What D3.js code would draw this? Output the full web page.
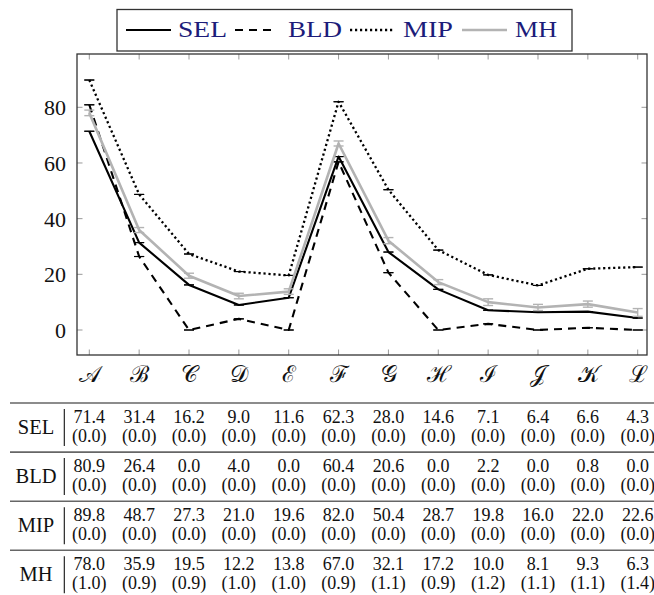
<!DOCTYPE html>
<html>
<head>
<meta charset="utf-8">
<script src="https://cdn.jsdelivr.net/npm/d3@7"></script>
<style>
  html, body { margin: 0; padding: 0; background: #fff; }
  svg { display: block; }
</style>
</head>
<body>
<svg id="chart" width="654" height="595"></svg>
<script>
// ---- data ----
const categories = ["𝒜", "ℬ", "𝒞", "𝒟", "ℰ", "ℱ", "𝒢", "ℋ", "ℐ", "𝒥", "𝒦", "ℒ"];
const seriesNames = ["SEL", "BLD", "MIP", "MH"];
const selValues = [71.4, 31.4, 16.2, 9.0, 11.6, 62.3, 28.0, 14.6, 7.1, 6.4, 6.6, 4.3];
const selErrors = [0, 0, 0, 0, 0, 0, 0, 0, 0, 0, 0, 0];
const bldValues = [80.9, 26.4, 0.0, 4.0, 0.0, 60.4, 20.6, 0.0, 2.2, 0.0, 0.8, 0.0];
const bldErrors = [0, 0, 0, 0, 0, 0, 0, 0, 0, 0, 0, 0];
const mipValues = [89.8, 48.7, 27.3, 21.0, 19.6, 82.0, 50.4, 28.7, 19.8, 16.0, 22.0, 22.6];
const mipErrors = [0, 0, 0, 0, 0, 0, 0, 0, 0, 0, 0, 0];
const mhValues = [78.0, 35.9, 19.5, 12.2, 13.8, 67.0, 32.1, 17.2, 10.0, 8.1, 9.3, 6.3];
const mhErrors = [1.0, 0.9, 0.9, 1.0, 1.0, 0.9, 1.1, 0.9, 1.2, 1.1, 1.1, 1.4];
const yTicks = [0, 20, 40, 60, 80];

const series = [
  { name: seriesNames[0], values: selValues, errors: selErrors, color: "#000", width: 2.1, dash: null },
  { name: seriesNames[1], values: bldValues, errors: bldErrors, color: "#000", width: 2.1, dash: "8,6" },
  { name: seriesNames[2], values: mipValues, errors: mipErrors, color: "#000", width: 2.3, dash: "2.2,2.8" },
  { name: seriesNames[3], values: mhValues, errors: mhErrors, color: "#b3b3b3", width: 2.6, dash: null }
];

const SERIF = '"Liberation Serif"';
const SCRIPT = '"DejaVu Serif"';

// ---- layout ----
const svg = d3.select("#chart");
const plot = { left: 77, right: 647, top: 54, bottom: 355 };
const x = d3.scaleLinear().domain([0, 11]).range([89.3, 637.7]);
const y = d3.scaleLinear().domain([0, 80]).range([330, 107.3]);
const idx = d3.range(categories.length);

// ticks (inward, gray)
const tickLen = 5.5;
const tickG = svg.append("g").attr("stroke", "#999").attr("stroke-width", 1);
idx.forEach(i => {
  tickG.append("line").attr("x1", x(i)).attr("x2", x(i)).attr("y1", plot.bottom).attr("y2", plot.bottom - tickLen);
  tickG.append("line").attr("x1", x(i)).attr("x2", x(i)).attr("y1", plot.top).attr("y2", plot.top + tickLen);
});
yTicks.forEach(t => {
  tickG.append("line").attr("x1", plot.left).attr("x2", plot.left + tickLen).attr("y1", y(t)).attr("y2", y(t));
  tickG.append("line").attr("x1", plot.right).attr("x2", plot.right - tickLen).attr("y1", y(t)).attr("y2", y(t));
});

// y tick labels via d3 axis
const yAxis = d3.axisLeft(y).tickValues(yTicks).tickSize(0).tickPadding(0).tickFormat(d3.format("d"));
const yAxisG = svg.append("g").attr("transform", `translate(${plot.left - 11},0)`).call(yAxis)
  .attr("font-family", SERIF).attr("font-size", 22);
yAxisG.select(".domain").remove();
yAxisG.selectAll("text").attr("font-family", SERIF).attr("font-size", 22).attr("fill", "#111").attr("dy", "0.34em");

// x tick labels
const xAxis = d3.axisBottom(x).tickValues(idx).tickSize(0).tickPadding(0).tickFormat(i => categories[i]);
const xAxisG = svg.append("g").attr("transform", `translate(0,${plot.bottom + 27})`).call(xAxis)
  .attr("font-family", SCRIPT).attr("font-size", 23);
xAxisG.select(".domain").remove();
xAxisG.selectAll("text").attr("font-family", SCRIPT).attr("font-size", 23).attr("fill", "#111").attr("dy", 0);

// clip
svg.append("clipPath").attr("id", "clip").append("rect")
  .attr("x", plot.left).attr("y", plot.top).attr("width", plot.right - plot.left).attr("height", plot.bottom - plot.top);

const line = d3.line().x((d, i) => x(i)).y(d => y(d));
const dataG = svg.append("g").attr("clip-path", "url(#clip)");
series.forEach(s => {
  const sg = dataG.append("g");
  sg.append("path").datum(s.values).attr("d", line)
    .attr("fill", "none").attr("stroke", s.color).attr("stroke-width", s.width)
    .attr("stroke-linejoin", "round")
    .attr("stroke-dasharray", s.dash);
  // error bars
  s.values.forEach((v, i) => {
    const e = s.errors[i];
    const ew = s.name === "MH" ? 1.4 : 1.1;
    if (e > 0) {
      sg.append("line").attr("x1", x(i)).attr("x2", x(i)).attr("y1", y(v - e)).attr("y2", y(v + e))
        .attr("stroke", s.color).attr("stroke-width", ew);
    }
    [v - e, v + e].forEach(val => {
      sg.append("line").attr("x1", x(i) - 5).attr("x2", x(i) + 5).attr("y1", y(val)).attr("y2", y(val))
        .attr("stroke", s.color).attr("stroke-width", ew);
    });
  });
});

// frame
svg.append("rect").attr("x", plot.left).attr("y", plot.top)
  .attr("width", plot.right - plot.left).attr("height", plot.bottom - plot.top)
  .attr("fill", "none").attr("stroke", "#333").attr("stroke-width", 1.3);

// ---- legend ----
const legend = svg.append("g");
legend.append("rect").attr("x", 117).attr("y", 9.5).attr("width", 455).attr("height", 41.5)
  .attr("fill", "#fff").attr("stroke", "#333").attr("stroke-width", 1.3);
const legendItems = [
  { line: [126, 171], text: 178, tw: 49 },
  { line: [235, 277], text: 288, tw: 54 },
  { line: [350, 395], text: 403, tw: 50 },
  { line: [462, 507], text: 515, tw: 42 }
];
series.forEach((s, k) => {
  const it = legendItems[k];
  legend.append("line").attr("x1", it.line[0]).attr("x2", it.line[1]).attr("y1", 30).attr("y2", 30)
    .attr("stroke", s.color).attr("stroke-width", s.width).attr("stroke-dasharray", s.dash);
  legend.append("text").attr("x", it.text).attr("y", 37).attr("font-size", 24)
    .attr("font-family", SERIF)
    .attr("fill", "#1c1c7a").attr("textLength", it.tw).attr("lengthAdjust", "spacingAndGlyphs")
    .text(s.name);
});

// ---- table ----
const table = svg.append("g");
const ruleY0 = 403, rowH = 49.1;
series.forEach((s, r) => {
  const ry = ruleY0 + r * rowH;
  table.append("line").attr("x1", 10).attr("x2", 654).attr("y1", ry).attr("y2", ry)
    .attr("stroke", "#666").attr("stroke-width", 1.6);
  table.append("text").attr("x", 36).attr("y", ry + 31).attr("text-anchor", "middle")
    .attr("font-family", SERIF).attr("font-size", 20.5).attr("fill", "#111").text(s.name);
  table.append("line").attr("x1", 64.3).attr("x2", 64.3).attr("y1", ry + 6).attr("y2", ry + 43)
    .attr("stroke", "#111").attr("stroke-width", 1.1);
  s.values.forEach((v, i) => {
    table.append("text").attr("x", x(i)).attr("y", ry + 20).attr("text-anchor", "middle")
      .attr("font-family", SERIF).attr("font-size", 18).attr("fill", "#111").text(v.toFixed(1));
    table.append("text").attr("x", x(i)).attr("y", ry + 38.5).attr("text-anchor", "middle")
      .attr("font-family", SERIF).attr("font-size", 18).attr("fill", "#111").text("(" + s.errors[i].toFixed(1) + ")");
  });
});
</script>
</body>
</html>
